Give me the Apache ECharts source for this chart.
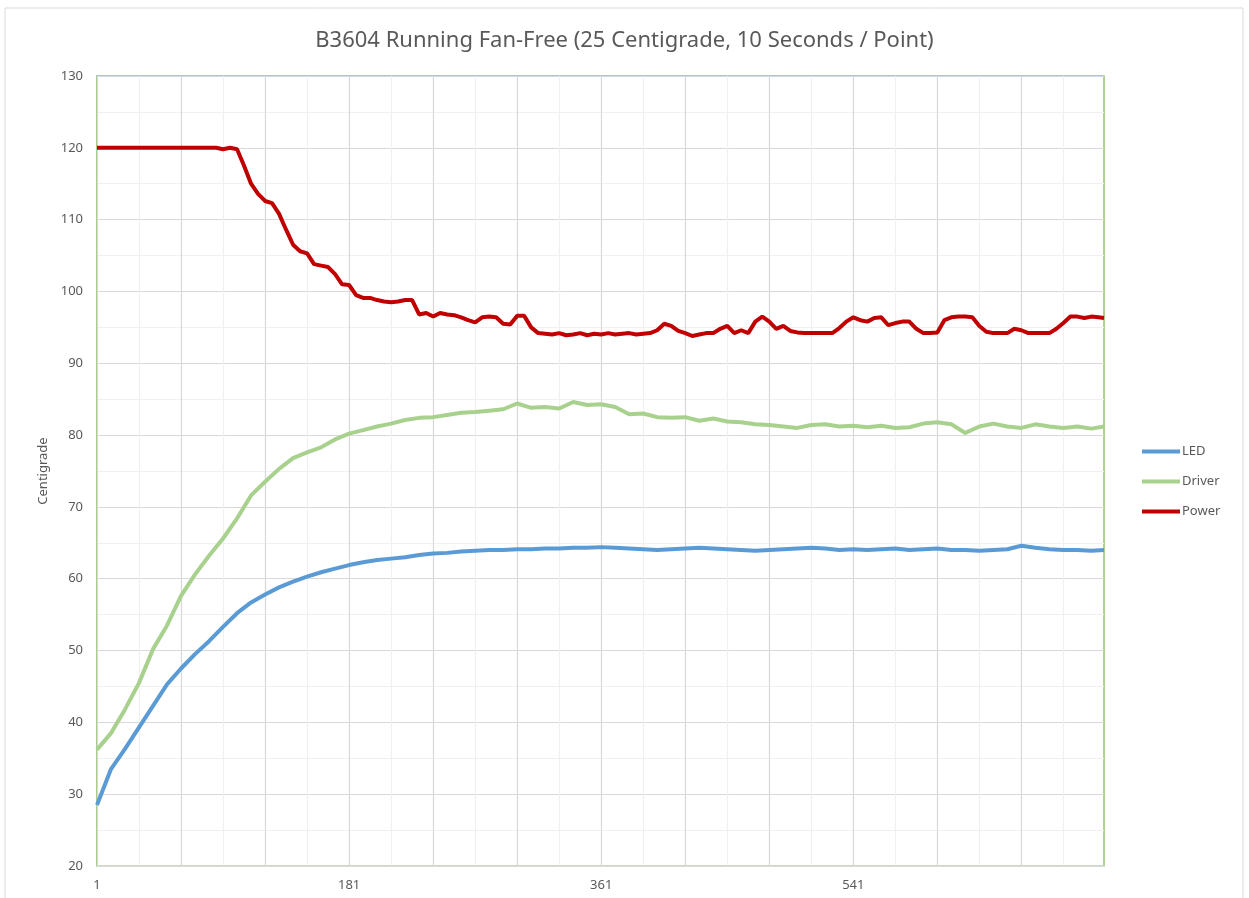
<!DOCTYPE html>
<html>
<head>
<meta charset="utf-8">
<script src="https://cdn.jsdelivr.net/npm/echarts@6/dist/echarts.min.js"></script>
<style>
    html, body { margin: 0; padding: 0; background: #fff; }
    #chart_stat { width: 1249px; height: 898px; }
</style>
</head>
<body>
<div id="chart_stat"></div>
<script>
    var pointCount = 720;

    var ledTemp = [28.5, 33.5, 36.3, 39.3, 42.3, 45.3, 47.5, 49.5, 51.3, 53.3,
        55.2, 56.7, 57.8, 58.8, 59.6, 60.3, 60.9, 61.4, 61.9, 62.3,
        62.6, 62.8, 63.0, 63.3, 63.5, 63.6, 63.8, 63.9, 64.0, 64.0,
        64.1, 64.1, 64.2, 64.2, 64.3, 64.3, 64.4, 64.3, 64.2, 64.1,
        64.0, 64.1, 64.2, 64.3, 64.2, 64.1, 64.0, 63.9, 64.0, 64.1,
        64.2, 64.3, 64.2, 64.0, 64.1, 64.0, 64.1, 64.2, 64.0, 64.1,
        64.2, 64.0, 64.0, 63.9, 64.0, 64.1, 64.6, 64.3, 64.1, 64.0,
        64.0, 63.9, 64.0];

    var driverTemp = [36.2, 38.5, 41.8, 45.5, 50.2, 53.5, 57.6, 60.6, 63.2, 65.6,
        68.4, 71.6, 73.5, 75.3, 76.8, 77.6, 78.3, 79.4, 80.2, 80.7,
        81.2, 81.6, 82.1, 82.4, 82.5, 82.8, 83.1, 83.2, 83.4, 83.6,
        84.4, 83.8, 83.9, 83.7, 84.6, 84.2, 84.3, 83.9, 82.9, 83.0,
        82.5, 82.4, 82.5, 82.0, 82.3, 81.9, 81.8, 81.5, 81.4, 81.2,
        81.0, 81.4, 81.5, 81.2, 81.3, 81.1, 81.3, 81.0, 81.1, 81.6,
        81.8, 81.5, 80.3, 81.2, 81.6, 81.2, 81.0, 81.5, 81.2, 81.0,
        81.2, 80.9, 81.2];

    var powerTemp = [120, 120, 120, 120, 120, 120, 120, 120, 120, 120,
        120, 120, 120, 120, 120, 120, 120, 120, 119.8, 120,
        119.8, 117.5, 115.0, 113.6, 112.6, 112.3, 110.8, 108.6, 106.5, 105.6,
        105.3, 103.8, 103.6, 103.4, 102.4, 101.0, 100.9, 99.5, 99.1, 99.1,
        98.8, 98.6, 98.5, 98.6, 98.8, 98.8, 96.8, 97.0, 96.5, 97.0,
        96.8, 96.7, 96.4, 96.0, 95.7, 96.4, 96.5, 96.4, 95.5, 95.4,
        96.6, 96.6, 95.0, 94.2, 94.1, 94.0, 94.2, 93.9, 94.0, 94.2,
        93.9, 94.1, 94.0, 94.2, 94.0, 94.1, 94.2, 94.0, 94.1, 94.2,
        94.6, 95.5, 95.2, 94.5, 94.2, 93.8, 94.0, 94.2, 94.2, 94.8,
        95.2, 94.2, 94.6, 94.2, 95.8, 96.5, 95.8, 94.8, 95.2, 94.5,
        94.3, 94.2, 94.2, 94.2, 94.2, 94.2, 94.9, 95.8, 96.4, 96.0,
        95.8, 96.3, 96.4, 95.3, 95.6, 95.8, 95.8, 94.8, 94.2, 94.2,
        94.3, 96.0, 96.4, 96.5, 96.5, 96.4, 95.2, 94.4, 94.2, 94.2,
        94.2, 94.8, 94.6, 94.2, 94.2, 94.2, 94.2, 94.8, 95.6, 96.5,
        96.5, 96.3, 96.5, 96.4, 96.3];

    var seriesNames = ['LED', 'Driver', 'Power'];
    var seriesColors = ['#5b9bd5', '#a9d18e', '#c00000'];

    var categories = [];
    for (var i = 1; i <= pointCount; i++) {
        categories.push(String(i));
    }

    // category index of each reading: every `step` points, last one at the end
    function pairs(values, step) {
        return values.map(function (v, k) {
            return [Math.min(k * step, pointCount - 1), v];
        });
    }

    var chart = echarts.init(document.getElementById('chart_stat'));

    var textColor = '#595959';
    var font = 'Noto Sans';

    var option = {
        backgroundColor: '#fff',
        animation: false,
        title: {
            text: 'B3604 Running Fan-Free (25 Centigrade, 10 Seconds / Point)',
            left: 'center',
            top: 25,
            textStyle: {
                color: textColor,
                fontSize: 22,
                fontWeight: 'normal',
                fontFamily: font
            }
        },
        legend: {
            data: seriesNames,
            orient: 'vertical',
            left: 1137,
            top: 440,
            icon: 'rect',
            itemWidth: 38,
            itemHeight: 4,
            itemGap: 17,
            textStyle: {
                color: textColor,
                fontSize: 13,
                fontFamily: font,
                padding: [0, 0, 0, -3]
            }
        },
        grid: {
            left: 97,
            right: 145,
            top: 76,
            bottom: 32,
            show: true,
            borderColor: '#92c46d',
            borderWidth: 1.5
        },
        xAxis: [
            {
                type: 'category',
                data: categories,
                boundaryGap: false,
                axisLine: {lineStyle: {color: '#d9d9d9', width: 1.5}},
                axisTick: {show: false},
                axisLabel: {
                    interval: 179,
                    color: textColor,
                    fontSize: 13,
                    fontFamily: font,
                    margin: 13
                },
                splitLine: {
                    show: true,
                    interval: 59,
                    lineStyle: {color: '#d9d9d9', width: 1.2}
                },
                z: 3
            },
            {
                // light minor grid every 30 points
                type: 'category',
                data: categories,
                boundaryGap: false,
                position: 'bottom',
                axisLine: {show: false},
                axisTick: {show: false},
                axisLabel: {show: false},
                splitLine: {
                    show: true,
                    interval: 29,
                    lineStyle: {color: '#f0f0f0', width: 1.2}
                },
                z: 1
            }
        ],
        yAxis: {
            type: 'value',
            min: 20,
            max: 130,
            interval: 10,
            name: 'Centigrade',
            nameLocation: 'middle',
            nameGap: 47,
            nameTextStyle: {color: textColor, fontSize: 13, fontFamily: font},
            axisLine: {show: true, lineStyle: {color: '#92c46d', width: 1.5}},
            axisTick: {show: false},
            axisLabel: {color: textColor, fontSize: 13, fontFamily: font, margin: 14},
            splitLine: {lineStyle: {color: '#d9d9d9', width: 1.2}},
            minorTick: {show: false, splitNumber: 2},
            minorSplitLine: {show: true, lineStyle: {color: '#f0f0f0', width: 1.2}}
        },
        graphic: [{
            type: 'rect',
            shape: {x: 5, y: 8, width: 1238, height: 900},
            style: {fill: 'none', stroke: '#d9d9d9', lineWidth: 1},
            silent: true
        }],
        series: [
            {
                name: 'LED',
                type: 'line',
                data: pairs(ledTemp, 10),
                showSymbol: false,
                lineStyle: {color: seriesColors[0], width: 4},
                itemStyle: {color: seriesColors[0]}
            },
            {
                name: 'Driver',
                type: 'line',
                data: pairs(driverTemp, 10),
                showSymbol: false,
                lineStyle: {color: seriesColors[1], width: 4},
                itemStyle: {color: seriesColors[1]}
            },
            {
                name: 'Power',
                type: 'line',
                data: pairs(powerTemp, 5),
                showSymbol: false,
                lineStyle: {color: seriesColors[2], width: 4},
                itemStyle: {color: seriesColors[2]}
            }
        ]
    };
    chart.setOption(option);
</script>
</body>
</html>
